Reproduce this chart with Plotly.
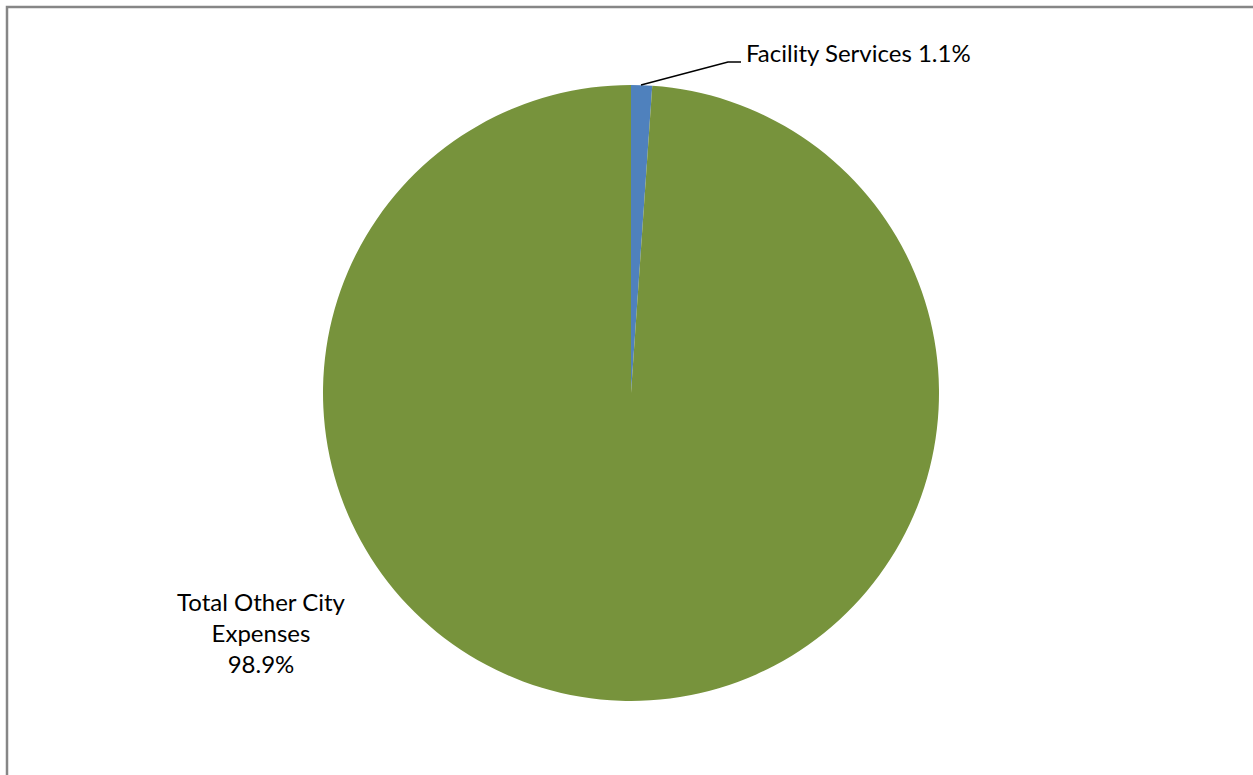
import plotly.graph_objects as go

W, H = 1253, 775

categories = ["Facility Services", "Total Other City Expenses"]
values = [1.1, 98.9]
colors = ["#4F81BD", "#77933C"]
label_texts = ["Facility Services 1.1%", "Total Other City<br>Expenses<br>98.9%"]

def px(x):
    return x / W

def py(y):
    return 1 - y / H

cx, cy, r = 631, 393, 308

fig = go.Figure(go.Pie(
    labels=categories,
    values=values,
    sort=False,
    direction="clockwise",
    rotation=0,
    marker=dict(colors=colors, line=dict(width=0)),
    textinfo="none",
    hoverinfo="label+percent",
    showlegend=False,
    domain=dict(x=[px(cx - r), px(cx + r)], y=[py(cy + r), py(cy - r)]),
))

font = dict(family="Lato, 'Open Sans', sans-serif", size=24, color="#000000")

fig.add_annotation(x=px(744), y=py(53), xref="paper", yref="paper",
                   text=label_texts[0], showarrow=False,
                   xanchor="left", yanchor="middle", font=font)
fig.add_annotation(x=px(261), y=py(632), xref="paper", yref="paper",
                   text=label_texts[1], showarrow=False,
                   xanchor="center", yanchor="middle", align="center", font=font)

# leader line
fig.add_shape(type="path", xref="paper", yref="paper",
              path=f"M {px(641)} {py(85)} L {px(728)} {py(62)} L {px(741)} {py(62)}",
              line=dict(color="#000000", width=1.5))

# chart border
fig.add_shape(type="rect", xref="paper", yref="paper",
              x0=px(7), x1=px(W + 20), y0=py(H + 20), y1=py(7),
              line=dict(color="#868686", width=2.5), fillcolor="rgba(0,0,0,0)")

fig.update_layout(
    width=W, height=H,
    margin=dict(l=0, r=0, t=0, b=0),
    paper_bgcolor="#FFFFFF",
    plot_bgcolor="#FFFFFF",
)

fig.write_html("out.html",
               config={"displayModeBar": False},
               post_script="document.body.style.margin='0';document.body.style.overflow='hidden';")
